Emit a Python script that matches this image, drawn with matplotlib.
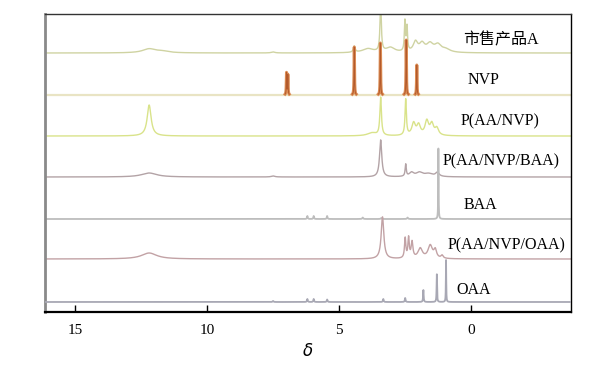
import numpy as np
import matplotlib
matplotlib.use("Agg")
import matplotlib.pyplot as plt

# ---- data: spectra as peak lists (ppm, height, half-width) ----
names = ["市售产品A", "NVP", "P(AA/NVP)", "P(AA/NVP/BAA)", "BAA", "P(AA/NVP/OAA)", "OAA"]
offsets = [259, 217, 176, 135, 93, 53, 10]

peaks_A = [(12.2, 4, 0.3), (11.7, 1.5, 0.3), (7.5, 1, 0.08), (4.42, 6, 0.04), (3.9, 4, 0.25),
           (3.42, 48, 0.03), (3.05, 5, 0.2), (2.5, 30, 0.025), (2.42, 24, 0.025),
           (2.1, 10, 0.1), (1.85, 8, 0.12), (1.55, 8, 0.15), (1.25, 7, 0.15), (0.95, 3, 0.2)]
peaks_NVP = [(6.99, 22, 0.01), (6.94, 20, 0.01), (4.42, 48, 0.01), (3.43, 52, 0.01),
             (2.45, 55, 0.01), (2.05, 30, 0.01)]
peaks_AANVP = [(12.2, 31, 0.09), (3.75, 3, 0.2), (3.42, 38, 0.035), (2.47, 36, 0.03),
               (2.17, 12, 0.08), (1.98, 10, 0.08), (1.67, 14, 0.08), (1.48, 11, 0.08), (1.29, 7, 0.08)]
peaks_BAAP = [(12.2, 4, 0.35), (7.5, 1, 0.08), (3.42, 37, 0.05), (2.47, 12, 0.025),
              (2.25, 4, 0.1), (1.95, 4, 0.15), (1.6, 3, 0.2), (1.27, 4, 0.08)]
peaks_BAA = [(6.2, 3, 0.015), (5.96, 3, 0.015), (5.45, 3, 0.015), (4.1, 1.5, 0.02),
             (3.4, 1, 0.02), (2.4, 1.5, 0.02), (1.23, 72, 0.008)]
peaks_OAAP = [(12.2, 6, 0.35), (3.35, 42, 0.06), (2.49, 20, 0.03), (2.36, 20, 0.03),
              (2.23, 16, 0.04), (1.92, 10, 0.1), (1.54, 13, 0.1), (1.35, 8, 0.06), (1.09, 3, 0.05)]
peaks_OAA = [(7.5, 1, 0.02), (6.2, 3, 0.015), (5.96, 3, 0.015), (5.45, 2.5, 0.015),
             (3.32, 3, 0.015), (2.49, 4, 0.015), (1.8, 12, 0.012), (1.29, 28, 0.01), (0.94, 42, 0.008)]
all_peaks = [peaks_A, peaks_NVP, peaks_AANVP, peaks_BAAP, peaks_BAA, peaks_OAAP, peaks_OAA]

line_colors = ["#cfd3a2", "#e9e4c4", "#d9e38a", "#b3a3a6", "#bdbdbd", "#c2a2a5", "#a8a8b4"]
label_pos = [(-1.15, 272), (-0.5, 232), (-1.1, 191), (-1.15, 151), (-0.35, 107), (-1.34, 67), (-0.1, 22)]

xticks = [15, 10, 5, 0]

fig = plt.figure(figsize=(6.0, 3.69), dpi=100)
ax = fig.add_axes([0.075, 0.1545, 0.8767, 0.8075])

x = np.linspace(16.2, -3.9, 8000)

def spectrum(peaks):
    y = np.zeros_like(x)
    for p, h, w in peaks:
        y += h * w**2 / ((x - p)**2 + w**2)
    return y

for i, (peaks, off, col) in enumerate(zip(all_peaks, offsets, line_colors)):
    y = spectrum(peaks)
    if names[i] == "NVP":
        ax.plot(x, off + y * 0, color=col, lw=1.6, zorder=2)
        ym = np.ma.masked_where(y < 0.8, y)
        ax.plot(x, off + ym, color="#dc8d55", lw=2.2, zorder=3)
        ax.plot(x, off + ym, color="#b35a2c", lw=0.7, zorder=4)
    else:
        lw = 1.3 if i in (4, 6) else 1.0
        ax.plot(x, off + y, color=col, lw=lw, zorder=2 + i * 0.1)

ser = ["Liberation Serif", "Noto Sans CJK SC"]
for name, (lx, ly) in zip(names, label_pos):
    ax.text(lx, ly, name, ha="center", va="center", fontsize=11.5, family=ser, zorder=10)

ax.set_xlim(16.15, -3.8)
ax.set_ylim(0, 298)
ax.set_xticks(xticks)
ax.set_xticklabels([str(t) for t in xticks], family="Liberation Serif", fontsize=11)
ax.tick_params(axis="x", direction="in", length=5, width=1, pad=9)
ax.set_yticks([])
ax.set_xlabel(r"$\delta$", fontsize=12, labelpad=3)

ax.spines["left"].set_color("#8a8a8a")
ax.spines["left"].set_linewidth(2.0)
ax.spines["bottom"].set_linewidth(1.6)
ax.spines["top"].set_color("#333333")
ax.spines["top"].set_linewidth(1.0)
ax.spines["right"].set_linewidth(1.0)

fig.savefig("out.png", dpi=100)
